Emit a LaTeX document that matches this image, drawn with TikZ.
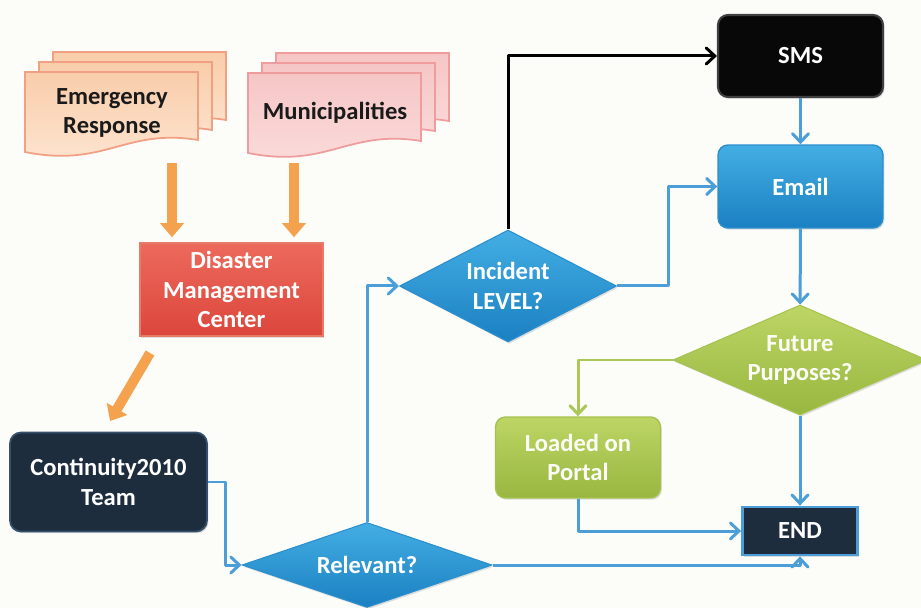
\documentclass[tikz,border=0pt]{standalone}
\usepackage{fontspec}
\setmainfont{Carlito}
\usetikzlibrary{shapes.geometric,arrows.meta,shadows,calc}

\definecolor{bgcol}{HTML}{FCFCF9}
\definecolor{erTop}{HTML}{F9CDAA}
\definecolor{erBot}{HTML}{FDE6D3}
\definecolor{erLine}{HTML}{F2A083}
\definecolor{muTop}{HTML}{F6C6C6}
\definecolor{muBot}{HTML}{FBDCDC}
\definecolor{muLine}{HTML}{EE9C9C}
\definecolor{orng}{HTML}{F5A24E}
\definecolor{redTop}{HTML}{EC6A5C}
\definecolor{redBot}{HTML}{DC463C}
\definecolor{redLine}{HTML}{E87A68}
\definecolor{navy}{HTML}{1E2D3E}
\definecolor{navyLine}{HTML}{34506C}
\definecolor{bluTop}{HTML}{43AEE3}
\definecolor{bluBot}{HTML}{1B80C2}
\definecolor{bluLine}{HTML}{2A8FCF}
\definecolor{connBlue}{HTML}{4B9ED8}
\definecolor{grnTop}{HTML}{BDD565}
\definecolor{grnBot}{HTML}{98B740}
\definecolor{grnLine}{HTML}{A6C24E}
\definecolor{connGreen}{HTML}{AAC757}
\definecolor{txtDark}{HTML}{1A1A1A}

\tikzset{
  boxshadow/.style={drop shadow={opacity=0.25,shadow xshift=0.8pt,shadow yshift=-1pt}},
  flowbox/.style={rectangle, align=center, text=white, inner sep=2pt, boxshadow},
  redbox/.style={flowbox, top color=redTop, bottom color=redBot, draw=redLine, line width=0.9pt,
    minimum width=3.66cm, minimum height=1.86cm},
  teambox/.style={flowbox, rounded corners=0.22cm, fill=navy, draw=navyLine, line width=1pt,
    minimum width=3.94cm, minimum height=1.98cm},
  smsbox/.style={flowbox, rounded corners=0.2cm, fill=black!97, draw=black!75, line width=1.2pt,
    minimum width=3.3cm, minimum height=1.64cm},
  emailbox/.style={flowbox, rounded corners=0.2cm, top color=bluTop, bottom color=bluBot, draw=bluLine,
    line width=0.8pt, minimum width=3.3cm, minimum height=1.66cm},
  portalbox/.style={flowbox, rounded corners=0.2cm, top color=grnTop, bottom color=grnBot, draw=grnLine,
    line width=0.8pt, minimum width=3.3cm, minimum height=1.62cm, text=white!95!grnTop},
  endbox/.style={flowbox, fill=navy, draw=connBlue, line width=1.6pt,
    minimum width=2.3cm, minimum height=0.96cm},
  decision/.style={diamond, aspect=2, inner sep=0pt, align=center, text=white, boxshadow},
  bluedia/.style={decision, top color=bluTop, bottom color=bluBot, draw=bluLine, line width=0.6pt},
  greendia/.style={decision, top color=grnTop, bottom color=grnBot, draw=grnLine, line width=0.6pt,
    text=white!95!grnTop},
  doctext/.style={align=center, text=txtDark},
  conn/.style={draw=connBlue, line width=0.06cm, line join=round,
    -{Straight Barb[length=0.17cm,width=0.32cm,line cap=round]}},
  conngreen/.style={conn, draw=connGreen},
  connblack/.style={conn, draw=black},
  fatarrow/.style={draw=orng, line width=0.2cm, -{Triangle[width=0.46cm,length=0.28cm]}},
  erpage/.style={top color=erTop, bottom color=erBot, draw=erLine, line width=1pt},
  mupage/.style={top color=muTop, bottom color=muBot, draw=muLine, line width=1pt},
}

% one sheet of a document stack: top-left corner (#1,#2), wavy lower edge
\newcommand{\docsheet}[3]{%
  \path[#3] (#1,#2) -- (#1+173,#2) -- (#1+173,#2+68)
    .. controls (#1+100,#2+56) and (#1+80,#2+96) .. (#1,#2+80) -- cycle;}

\begin{document}
\begin{tikzpicture}[x=0.02cm, y=-0.02cm, font=\bfseries\fontsize{14}{17}\selectfont]
  \useasboundingbox (0,0) rectangle (921,608);
  \fill[bgcol] (0,0) rectangle (921,608);
  \clip (0,0) rectangle (921,608);

  % document stacks
  \docsheet{53}{52}{erpage}
  \docsheet{39}{62}{erpage}
  \docsheet{25}{72}{erpage}
  \docsheet{276}{53}{mupage}
  \docsheet{262}{63}{mupage}
  \docsheet{248}{73}{mupage}
  \node[doctext] (er) at (112,113) {Emergency\\Response};
  \node[doctext] (mun) at (335,113) {Municipalities};

  % boxes
  \node[redbox] (dmc) at (231.5,289.5) {Disaster\\Management\\Center};
  \node[teambox] (team) at (108.5,482) {Continuity2010\\Team};
  \node[smsbox] (sms) at (800.5,56) {SMS};
  \node[emailbox] (email) at (800.5,186.5) {Email};
  \node[portalbox] (portal) at (578,457.5) {Loaded on\\Portal};
  \node[endbox] (end) at (800,531) {END};

  % decisions
  \node[bluedia, minimum width=5cm, minimum height=1.7cm] (rel) at (367,565) {Relevant?};
  \node[bluedia, minimum width=4.34cm, minimum height=2.24cm] (inc) at (508,286) {Incident\\LEVEL?};
  \node[greendia, minimum width=5.08cm, minimum height=2.2cm] (fut) at (800,360) {Future\\Purposes?};

  % feeds into the centre
  \coordinate (erfeed) at (172,163);
  \coordinate (mufeed) at (294,163);
  \coordinate (dmcout) at (150,353);
  \coordinate (teamin) at (110,421);
  \draw[fatarrow] (erfeed) -- ($(erfeed |- dmc.north)+(0,-5)$);
  \draw[fatarrow] (mufeed) -- ($(mufeed |- dmc.north)+(0,-5)$);
  \draw[fatarrow] (dmcout) -- (teamin);

  % flow connectors
  \draw[conn] (team.east) -- ++(18,0) |- (rel.west);
  \draw[conn] (rel.north) |- (inc.west);
  \draw[conn] (rel.east) -| (end.south);
  \draw[connblack] (inc.north) |- (sms.west);
  \draw[conn] (inc.east) -- ++(51,0) |- (email.west);
  \draw[conn] (sms) -- (email);
  \draw[conn] (email) -- (fut);
  \draw[conngreen] (fut.west) -| (portal.north);
  \draw[conn] (fut) -- (end);
  \draw[conn] (portal.south) |- (end.west);
\end{tikzpicture}
\end{document}
